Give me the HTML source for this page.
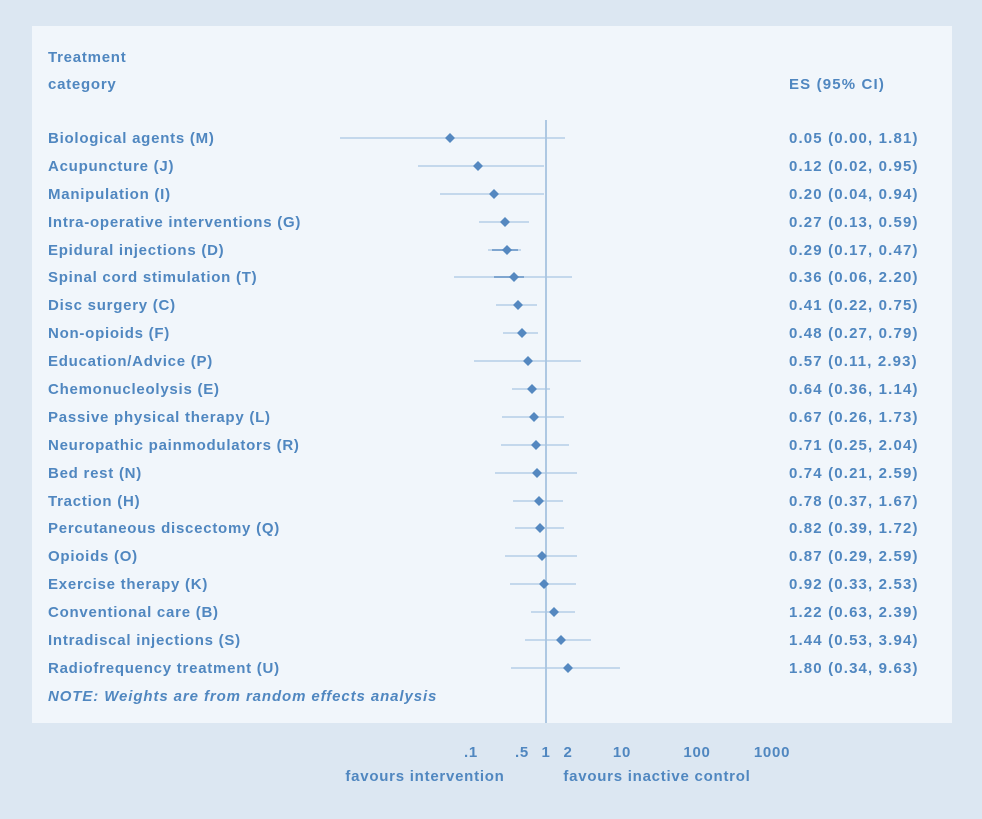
<!DOCTYPE html>
<html><head><meta charset="utf-8"><style>
html,body{margin:0;padding:0;background:#dce7f2;}
svg{display:block}
text{font-family:"Liberation Sans",sans-serif;fill:#5087c0;font-size:15px;font-weight:bold;letter-spacing:0.75px;}
text.n{letter-spacing:1.15px;}
</style></head><body>
<svg width="982" height="819" viewBox="0 0 982 819">
<rect width="982" height="819" fill="#dce7f2"/>
<rect x="32" y="26" width="920" height="697" fill="#f1f6fb"/>
<text x="48" y="62">Treatment</text>
<text x="48" y="89">category</text>
<text class="n" x="789" y="89">ES (95% CI)</text>
<line x1="546" y1="120" x2="546" y2="723" stroke="#8aafd4" stroke-width="1.3"/>
<g stroke="#a9c5e2" stroke-width="1.3">
<line x1="340" y1="138" x2="565" y2="138"/>
<line x1="418" y1="166" x2="544" y2="166"/>
<line x1="440" y1="194" x2="544" y2="194"/>
<line x1="479" y1="222" x2="529" y2="222"/>
<line x1="488" y1="250" x2="521" y2="250"/>
<line x1="454" y1="277" x2="572" y2="277"/>
<line x1="496" y1="305" x2="537" y2="305"/>
<line x1="503" y1="333" x2="538" y2="333"/>
<line x1="474" y1="361" x2="581" y2="361"/>
<line x1="512" y1="389" x2="550" y2="389"/>
<line x1="502" y1="417" x2="564" y2="417"/>
<line x1="501" y1="445" x2="569" y2="445"/>
<line x1="495" y1="473" x2="577" y2="473"/>
<line x1="513" y1="501" x2="563" y2="501"/>
<line x1="515" y1="528" x2="564" y2="528"/>
<line x1="505" y1="556" x2="577" y2="556"/>
<line x1="510" y1="584" x2="576" y2="584"/>
<line x1="531" y1="612" x2="575" y2="612"/>
<line x1="525" y1="640" x2="591" y2="640"/>
<line x1="511" y1="668" x2="620" y2="668"/>
</g>
<g stroke="#7fa6d0" stroke-width="2">
<line x1="492" y1="250" x2="518" y2="250"/>
<line x1="494" y1="277" x2="524" y2="277"/>
</g>
<g fill="#5588c0">
<path d="M450 133l5 5-5 5-5-5z"/>
<path d="M478 161l5 5-5 5-5-5z"/>
<path d="M494 189l5 5-5 5-5-5z"/>
<path d="M505 217l5 5-5 5-5-5z"/>
<path d="M507 245l5 5-5 5-5-5z"/>
<path d="M514 272l5 5-5 5-5-5z"/>
<path d="M518 300l5 5-5 5-5-5z"/>
<path d="M522 328l5 5-5 5-5-5z"/>
<path d="M528 356l5 5-5 5-5-5z"/>
<path d="M532 384l5 5-5 5-5-5z"/>
<path d="M534 412l5 5-5 5-5-5z"/>
<path d="M536 440l5 5-5 5-5-5z"/>
<path d="M537 468l5 5-5 5-5-5z"/>
<path d="M539 496l5 5-5 5-5-5z"/>
<path d="M540 523l5 5-5 5-5-5z"/>
<path d="M542 551l5 5-5 5-5-5z"/>
<path d="M544 579l5 5-5 5-5-5z"/>
<path d="M554 607l5 5-5 5-5-5z"/>
<path d="M561 635l5 5-5 5-5-5z"/>
<path d="M568 663l5 5-5 5-5-5z"/>
</g>
<g>
<text x="48" y="143">Biological agents (M)</text><text class="n" x="789" y="143">0.05 (0.00, 1.81)</text>
<text x="48" y="171">Acupuncture (J)</text><text class="n" x="789" y="171">0.12 (0.02, 0.95)</text>
<text x="48" y="199">Manipulation (I)</text><text class="n" x="789" y="199">0.20 (0.04, 0.94)</text>
<text x="48" y="227">Intra-operative interventions (G)</text><text class="n" x="789" y="227">0.27 (0.13, 0.59)</text>
<text x="48" y="255">Epidural injections (D)</text><text class="n" x="789" y="255">0.29 (0.17, 0.47)</text>
<text x="48" y="282">Spinal cord stimulation (T)</text><text class="n" x="789" y="282">0.36 (0.06, 2.20)</text>
<text x="48" y="310">Disc surgery (C)</text><text class="n" x="789" y="310">0.41 (0.22, 0.75)</text>
<text x="48" y="338">Non-opioids (F)</text><text class="n" x="789" y="338">0.48 (0.27, 0.79)</text>
<text x="48" y="366">Education/Advice (P)</text><text class="n" x="789" y="366">0.57 (0.11, 2.93)</text>
<text x="48" y="394">Chemonucleolysis (E)</text><text class="n" x="789" y="394">0.64 (0.36, 1.14)</text>
<text x="48" y="422">Passive physical therapy (L)</text><text class="n" x="789" y="422">0.67 (0.26, 1.73)</text>
<text x="48" y="450">Neuropathic painmodulators (R)</text><text class="n" x="789" y="450">0.71 (0.25, 2.04)</text>
<text x="48" y="478">Bed rest (N)</text><text class="n" x="789" y="478">0.74 (0.21, 2.59)</text>
<text x="48" y="506">Traction (H)</text><text class="n" x="789" y="506">0.78 (0.37, 1.67)</text>
<text x="48" y="533">Percutaneous discectomy (Q)</text><text class="n" x="789" y="533">0.82 (0.39, 1.72)</text>
<text x="48" y="561">Opioids (O)</text><text class="n" x="789" y="561">0.87 (0.29, 2.59)</text>
<text x="48" y="589">Exercise therapy (K)</text><text class="n" x="789" y="589">0.92 (0.33, 2.53)</text>
<text x="48" y="617">Conventional care (B)</text><text class="n" x="789" y="617">1.22 (0.63, 2.39)</text>
<text x="48" y="645">Intradiscal injections (S)</text><text class="n" x="789" y="645">1.44 (0.53, 3.94)</text>
<text x="48" y="673">Radiofrequency treatment (U)</text><text class="n" x="789" y="673">1.80 (0.34, 9.63)</text>
<text x="48" y="701" font-style="italic" style="font-size:15px;letter-spacing:0.9px">NOTE: Weights are from random effects analysis</text>
</g>
<g text-anchor="middle">
<text x="471" y="757">.1</text>
<text x="522" y="757">.5</text>
<text x="546" y="757">1</text>
<text x="568" y="757">2</text>
<text x="622" y="757">10</text>
<text x="697" y="757">100</text>
<text x="772" y="757">1000</text>
<text x="425" y="781">favours intervention</text>
<text x="657" y="781">favours inactive control</text>
</g>
</svg>
</body></html>
